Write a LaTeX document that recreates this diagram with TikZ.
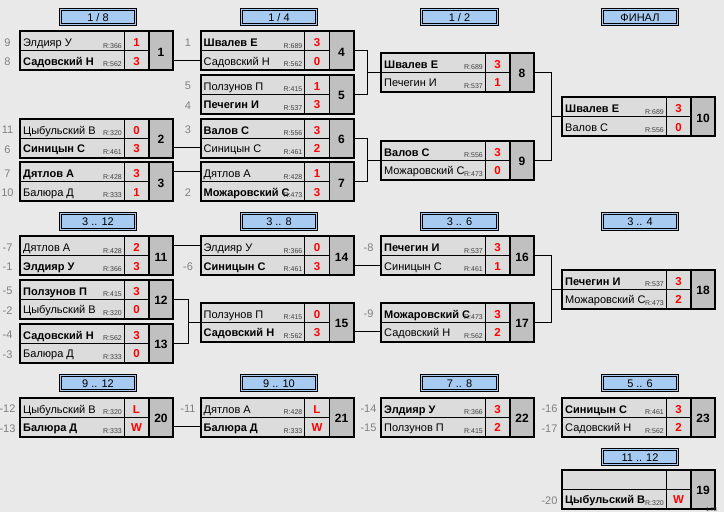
\documentclass[tikz,border=0pt]{standalone}
\usepackage{fontspec}
\setmainfont{Liberation Sans}
\usetikzlibrary{calc}
\definecolor{bgc}{HTML}{E9E9E9}
\definecolor{cellc}{HTML}{DCDCDC}
\definecolor{numc}{HTML}{C0C0C0}
\definecolor{hdrc}{HTML}{A6CAF0}
\definecolor{seedc}{HTML}{808080}
\definecolor{redc}{HTML}{FF0000}
\tikzset{
 cellA/.style={fill=cellc, minimum width=104, minimum height=19.5, inner sep=0, outer sep=0},
 mframe/.style={draw, line width=2, minimum width=153, minimum height=39, inner sep=0, outer sep=0},
 nm/.style={inner sep=0, font=\fontsize{11}{13}\selectfont},
 rat/.style={inner sep=0, font=\fontsize{7}{8}\selectfont, text=black!75},
 sc/.style={inner sep=0, font=\fontsize{11.5}{13}\selectfont\bfseries, text=redc},
 num/.style={inner sep=0, font=\fontsize{12}{14}\selectfont\bfseries},
 seedlbl/.style={inner sep=0, font=\fontsize{11}{13}\selectfont, text=seedc, anchor=center},
 hdrbox/.style={draw, line width=0.9, double=hdrc, double distance=1.2, fill=hdrc,
   minimum width=75.5, minimum height=15.5, inner sep=0, text height=8, text depth=0,
   font=\fontsize{11}{13}\selectfont},
 conn/.style={line width=1}
}
\newcommand\matchbx[9]{%
\begin{scope}[shift={(#2,#3)}]
 \node[cellA, anchor=north west] (m#1a) at (0,0) {};
 \node[cellA, anchor=north west] (m#1b) at (0,19.5) {};
 \fill[cellc] (104,0) rectangle (129,39);
 \fill[numc] (129,0) rectangle (153,39);
 \begin{scope}
  \clip (0,0) rectangle (104,39);
  \node[nm, anchor=base west] (m#1an) at (3,15.5) {#4};
  \node[nm, anchor=base west] (m#1bn) at (3,34) {#7};
 \end{scope}
 \node[rat, anchor=base east] (m#1ar) at (102,17) {#5};
 \node[rat, anchor=base east] (m#1br) at (102,35.5) {#8};
 \node[sc, anchor=base] (m#1as) at (116.5,15.5) {#6};
 \node[sc, anchor=base] (m#1bs) at (116.5,34) {#9};
 \node[num, anchor=base] (m#1n) at (141,25) {#1};
 \draw[line width=0.8] (0,19.5) -- (129,19.5);
 \draw[line width=0.8] (104,0) -- (104,39);
 \draw[line width=1.8] (129,0) -- (129,39);
 \node[mframe, anchor=north west] (m#1) at (0,0) {};
\end{scope}}
\newcommand\seedl[2]{\node[seedlbl] (s-#1) at ($(#1.west)+(-12.5,1.5)$) {#2};}
\begin{document}
\begin{tikzpicture}[x=1pt,y=-1pt]
\fill[bgc] (0,0) rectangle (724,512);
\useasboundingbox (0,0) rectangle (724,512);
% headers
\node[hdrbox] (h1) at (98,17) {1 / 8};
\node[hdrbox] (h2) at (279,17) {1 / 4};
\node[hdrbox] (h3) at (459.5,17) {1 / 2};
\node[hdrbox] (h4) at (640,17) {ФИНАЛ};
\node[hdrbox] (h5) at (98,221.5) {3 .. 12};
\node[hdrbox] (h6) at (279,221.5) {3 .. 8};
\node[hdrbox] (h7) at (459.5,221.5) {3 .. 6};
\node[hdrbox] (h8) at (640,221.5) {3 .. 4};
\node[hdrbox] (h9) at (98,383) {9 .. 12};
\node[hdrbox] (h10) at (279,383) {9 .. 10};
\node[hdrbox] (h11) at (459.5,383) {7 .. 8};
\node[hdrbox] (h12) at (640,383) {5 .. 6};
\node[hdrbox] (h13) at (640,457) {11 .. 12};
% matches
\matchbx{1}{20}{31}{Элдияр У}{R:366}{1}{\bfseries Садовский Н}{R:562}{3}
\matchbx{2}{20}{118.5}{Цыбульский В}{R:320}{0}{\bfseries Синицын С}{R:461}{3}
\matchbx{3}{20}{162}{\bfseries Дятлов А}{R:428}{3}{Балюра Д}{R:333}{1}
\matchbx{4}{200.5}{31}{\bfseries Швалев Е}{R:689}{3}{Садовский Н}{R:562}{0}
\matchbx{5}{200.5}{74.5}{Ползунов П}{R:415}{1}{\bfseries Печегин И}{R:537}{3}
\matchbx{6}{200.5}{118.5}{\bfseries Валов С}{R:556}{3}{Синицын С}{R:461}{2}
\matchbx{7}{200.5}{162}{Дятлов А}{R:428}{1}{\bfseries Можаровский С}{R:473}{3}
\matchbx{8}{381}{52.5}{\bfseries Швалев Е}{R:689}{3}{Печегин И}{R:537}{1}
\matchbx{9}{381}{140.5}{\bfseries Валов С}{R:556}{3}{Можаровский С}{R:473}{0}
\matchbx{10}{562}{97}{\bfseries Швалев Е}{R:689}{3}{Валов С}{R:556}{0}
\matchbx{11}{20}{236}{Дятлов А}{R:428}{2}{\bfseries Элдияр У}{R:366}{3}
\matchbx{12}{20}{279.5}{\bfseries Ползунов П}{R:415}{3}{Цыбульский В}{R:320}{0}
\matchbx{13}{20}{323.5}{\bfseries Садовский Н}{R:562}{3}{Балюра Д}{R:333}{0}
\matchbx{14}{200.5}{236}{Элдияр У}{R:366}{0}{\bfseries Синицын С}{R:461}{3}
\matchbx{15}{200.5}{302.5}{Ползунов П}{R:415}{0}{\bfseries Садовский Н}{R:562}{3}
\matchbx{16}{381}{236}{\bfseries Печегин И}{R:537}{3}{Синицын С}{R:461}{1}
\matchbx{17}{381}{302.5}{\bfseries Можаровский С}{R:473}{3}{Садовский Н}{R:562}{2}
\matchbx{18}{562}{269.5}{\bfseries Печегин И}{R:537}{3}{Можаровский С}{R:473}{2}
\matchbx{20}{20}{397.5}{Цыбульский В}{R:320}{L}{\bfseries Балюра Д}{R:333}{W}
\matchbx{21}{200.5}{397.5}{Дятлов А}{R:428}{L}{\bfseries Балюра Д}{R:333}{W}
\matchbx{22}{381}{397.5}{\bfseries Элдияр У}{R:366}{3}{Ползунов П}{R:415}{2}
\matchbx{23}{562}{397.5}{\bfseries Синицын С}{R:461}{3}{Садовский Н}{R:562}{2}
\matchbx{19}{562}{469.5}{}{}{}{\bfseries Цыбульский В}{R:320}{W}
\node[inner sep=0, font=\fontsize{5.5}{6}\selectfont, text=black!80, anchor=base west] (ver) at (706,511) {1.78};
% seeds
\seedl{m1a}{9}\seedl{m1b}{8}
\seedl{m2a}{11}\seedl{m2b}{6}
\seedl{m3a}{7}\seedl{m3b}{10}
\seedl{m4a}{1}
\seedl{m5a}{5}\seedl{m5b}{4}
\seedl{m6a}{3}
\seedl{m7b}{2}
\seedl{m11a}{-7}\seedl{m11b}{-1}
\seedl{m12a}{-5}\seedl{m12b}{-2}
\seedl{m13a}{-4}\seedl{m13b}{-3}
\seedl{m14b}{-6}
\seedl{m16a}{-8}
\seedl{m17a}{-9}
\seedl{m20a}{-12}\seedl{m20b}{-13}
\seedl{m21a}{-11}
\seedl{m22a}{-14}\seedl{m22b}{-15}
\seedl{m23a}{-16}\seedl{m23b}{-17}
\seedl{m19b}{-20}
% connectors
\draw[conn] (m1.east |- m4b.west) -- (m4b.west);
\draw[conn] (m2.east |- m6b.west) -- (m6b.west);
\draw[conn] (m3.east |- m7a.west) -- (m7a.west);
\draw[conn] (m4.east) -- ++(14,0) coordinate (k45) -- (k45 |- m5.east) -- (m5.east);
\draw[conn] (k45 |- m8.west) -- (m8.west);
\draw[conn] (m6.east) -- ++(14,0) coordinate (k67) -- (k67 |- m7.east) -- (m7.east);
\draw[conn] (k67 |- m9.west) -- (m9.west);
\draw[conn] (m8.east) -- ++(17,0) coordinate (k89) -- (k89 |- m9.east) -- (m9.east);
\draw[conn] (k89 |- m10.west) -- (m10.west);
\draw[conn] (m11.east |- m14a.west) -- (m14a.west);
\draw[conn] (m12.east) -- ++(15,0) coordinate (k1213) -- (k1213 |- m13.east) -- (m13.east);
\draw[conn] (k1213 |- m15.west) -- (m15.west);
\draw[conn] (m14.east |- m16b.west) -- (m16b.west);
\draw[conn] (m15.east |- m17b.west) -- (m17b.west);
\draw[conn] (m16.east) -- ++(17,0) coordinate (k1617) -- (k1617 |- m17.east) -- (m17.east);
\draw[conn] (k1617 |- m18.west) -- (m18.west);
\draw[conn] (m20.east |- m21b.west) -- (m21b.west);
\end{tikzpicture}
\end{document}
